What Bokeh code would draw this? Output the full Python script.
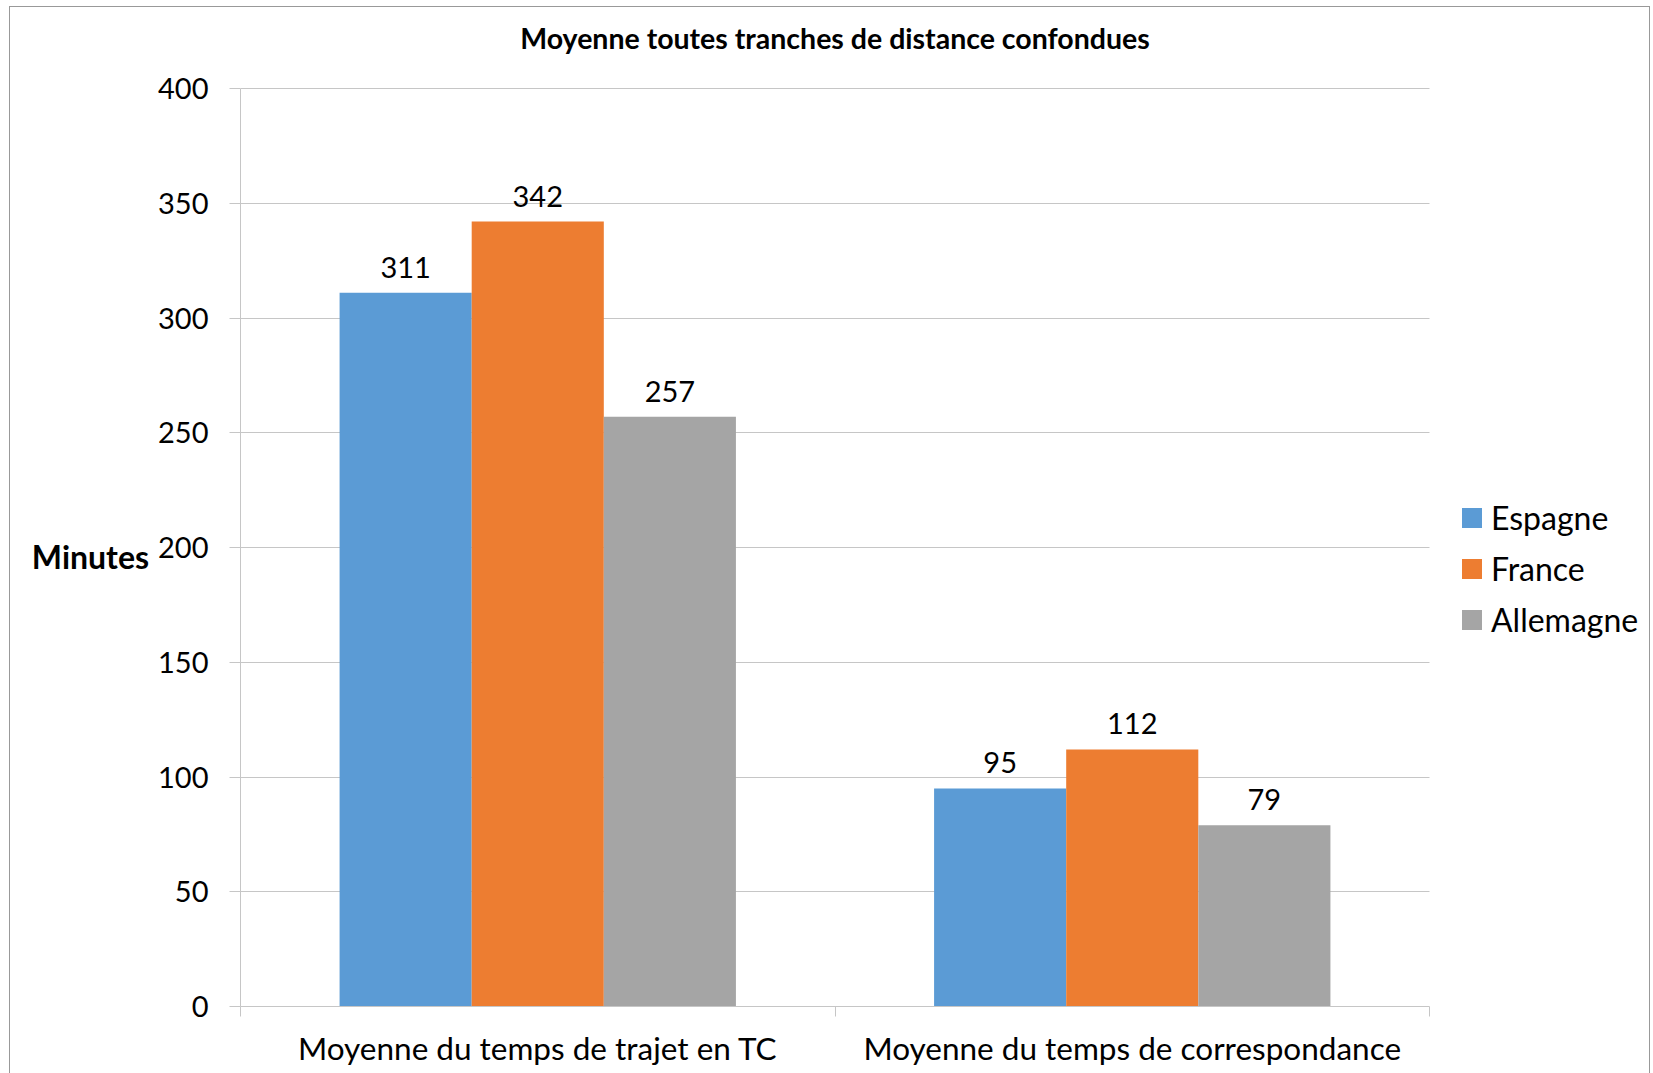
from bokeh.plotting import figure
from bokeh.models import (Range1d, FixedTicker, ColumnDataSource, LabelSet, Label, Legend,
                          LegendItem, Grid)
from bokeh.transform import dodge
from bokeh.core.properties import value
from bokeh.embed import file_html
from bokeh.resources import INLINE

# ---- data ----
categories = ["Moyenne du temps de trajet en TC", "Moyenne du temps de correspondance"]
series = ["Espagne", "France", "Allemagne"]
espagne = [311, 95]
france = [342, 112]
allemagne = [257, 79]
colors = ["#5B9BD5", "#ED7D31", "#A5A5A5"]
y_ticks = [0, 50, 100, 150, 200, 250, 300, 350, 400]
title_text = "Moyenne toutes tranches de distance confondues"
y_label = "Minutes"

FONT = "Lato"
GRID = "#c6c6c6"
W, H = 1641, 1067

# ---- layout geometry (pixels) ----
B_LEFT, B_RIGHT, B_TOP, B_BOTTOM = 230, 5, 5, 68
PLOT_W = 1189            # width of the gridded plot area
PLOT_H = 918             # height of the gridded plot area (0..400)
TITLE_DY = 25            # title centre, px below the top of the frame
frame_w = W - B_LEFT - B_RIGHT
frame_h = H - B_TOP - B_BOTTOM

n = len(categories)
y_max = y_ticks[-1]
centers = [i + 0.5 for i in range(n)]
edges = [float(i) for i in range(n + 1)]
x_end = n * frame_w / PLOT_W          # extra room on the right for the legend
y_end = y_max * frame_h / PLOT_H      # extra room on top for the title

src = ColumnDataSource(dict(
    pos=centers,
    Espagne=espagne, France=france, Allemagne=allemagne,
    Espagne_t=[str(v) for v in espagne],
    France_t=[str(v) for v in france],
    Allemagne_t=[str(v) for v in allemagne],
))

p = figure(x_range=Range1d(0, x_end), y_range=Range1d(0, y_end),
           width=W, height=H, output_backend="svg", toolbar_location=None,
           min_border_left=B_LEFT, min_border_right=B_RIGHT,
           min_border_top=B_TOP, min_border_bottom=B_BOTTOM,
           outline_line_color=None,
           styles={"margin-left": "9px", "margin-top": "6px",
                   "border-left": "1px solid #999999", "border-top": "1px solid #999999",
                   "border-right": "1px solid #999999"})

# title (drawn as a text label centred over the plot area)
title_y = (frame_h - TITLE_DY) * y_max / PLOT_H
p.add_layout(Label(x=n / 2, y=title_y, text=title_text, text_align="center",
                   text_baseline="middle", text_font=FONT, text_font_style="bold",
                   text_font_size="28.5px", text_color="black"))

# bars
bw = 1 / 4.5
offsets = [-bw, 0, bw]
legend_items = []
for name, col, off in zip(series, colors, offsets):
    r = p.vbar(x=dodge("pos", off), top=name, width=bw, source=src,
               fill_color=col, line_color=None)
    legend_items.append(LegendItem(label=name, renderers=[r]))
    lbl = LabelSet(x=dodge("pos", off), y=name, text=name + "_t", source=src,
                   text_align="center", text_baseline="bottom", y_offset=15,
                   text_font=value(FONT), text_font_size="29px", text_color="black")
    p.add_layout(lbl)

# y axis
p.yaxis.ticker = FixedTicker(ticks=y_ticks)
p.yaxis.bounds = (0, y_max)
p.yaxis.major_tick_out = 11
p.yaxis.major_tick_in = 0
p.yaxis.minor_tick_line_color = None
p.yaxis.major_tick_line_color = GRID
p.yaxis.axis_line_color = GRID
p.yaxis.major_label_text_font = FONT
p.yaxis.major_label_text_font_size = "29px"
p.yaxis.major_label_text_color = "black"
p.yaxis.major_label_standoff = 21
# leading blank lines move the label down to the middle of the 0..400 area
p.yaxis.axis_label = "\n\n" + y_label
p.yaxis.axis_label_orientation = "horizontal"
p.yaxis.axis_label_text_font = FONT
p.yaxis.axis_label_text_font_style = "bold"
p.yaxis.axis_label_text_font_size = "32px"
p.yaxis.axis_label_text_color = "black"
p.yaxis.axis_label_standoff = 6

p.ygrid.ticker = FixedTicker(ticks=y_ticks)
p.ygrid.grid_line_color = GRID
if "cross_bounds" in Grid.properties():
    p.ygrid.cross_bounds = (0, n)
p.xgrid.grid_line_color = None

# x axis: category labels at centers, ticks at category boundaries
p.xaxis.ticker = FixedTicker(ticks=centers, minor_ticks=edges)
p.xaxis.bounds = (0, n)
p.xaxis.major_label_overrides = {c: lab for c, lab in zip(centers, categories)}
p.xaxis.major_tick_line_color = None
p.xaxis.major_tick_out = 0
p.xaxis.major_tick_in = 0
p.xaxis.minor_tick_line_color = GRID
p.xaxis.minor_tick_out = 10
p.xaxis.minor_tick_in = 0
p.xaxis.axis_line_color = GRID
p.xaxis.major_label_standoff = 12
p.xaxis.major_label_text_font = FONT
p.xaxis.major_label_text_font_size = "31.5px"
p.xaxis.major_label_text_color = "black"

# legend (inside the frame, in the free area right of the plot)
legend = Legend(items=legend_items, location=(PLOT_W + 30, 367), orientation="vertical",
                glyph_width=25, glyph_height=25, label_standoff=7, spacing=12,
                padding=0, margin=0, border_line_color=None, background_fill_alpha=0,
                label_text_font=FONT, label_text_font_size="32px", label_text_color="black",
                label_height=38)
p.add_layout(legend)

open("out.html", "w").write(file_html(p, INLINE))
